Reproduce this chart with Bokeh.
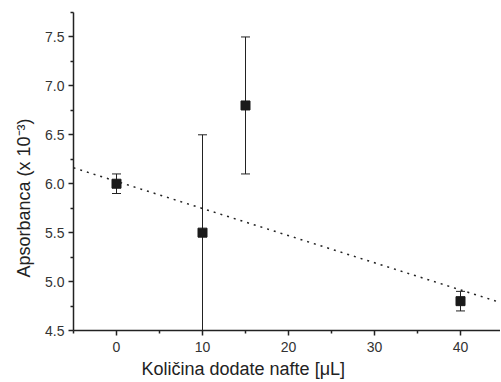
from bokeh.plotting import figure
from bokeh.models import ColumnDataSource, Whisker, TeeHead, Range1d, FixedTicker, CustomJSTickFormatter, Title
from bokeh.embed import file_html
from bokeh.resources import INLINE

# data
x_vals = [0, 10, 15, 40]
y_vals = [6.0, 5.5, 6.8, 4.8]
y_err = [0.1, 1.0, 0.7, 0.1]
fit_x = [-5, 45]
fit_y = [6.163, 4.776]
x_ticks = [0, 10, 20, 30, 40]
x_minor = [-5, 5, 15, 25, 35, 45]
y_ticks = [4.5, 5.0, 5.5, 6.0, 6.5, 7.0, 7.5]
y_minor = [4.75, 5.25, 5.75, 6.25, 6.75, 7.25, 7.75]
x_label = "Količina dodate nafte [μL]"
y_label = "Apsorbanca (x 10⁻³)"

p = figure(width=500, height=380, output_backend="svg", toolbar_location=None,
           x_range=Range1d(-5, 44.65), y_range=Range1d(4.5, 7.75),
           min_border_left=73, min_border_right=0, min_border_top=12, min_border_bottom=50)
p.outline_line_color = None
p.xgrid.visible = False
p.ygrid.visible = False
p.background_fill_color = "white"
p.border_fill_color = "white"

src = ColumnDataSource(dict(x=x_vals, y=y_vals,
                            lo=[a - b for a, b in zip(y_vals, y_err)],
                            hi=[a + b for a, b in zip(y_vals, y_err)]))

p.line(fit_x, fit_y, line_color="#222222", line_width=1.5, line_dash="2 5")

w = Whisker(source=src, base="x", upper="hi", lower="lo", line_color="#222222", line_width=1,
            upper_head=TeeHead(size=9, line_color="#222222", line_width=1),
            lower_head=TeeHead(size=9, line_color="#222222", line_width=1))
p.add_layout(w)
p.scatter("x", "y", source=src, marker="square", size=9, fill_color="#1a1a1a", line_color="#1a1a1a")

for ax in (p.xaxis[0], p.yaxis[0]):
    ax.axis_line_width = 1.5
    ax.axis_line_color = "#222222"
    ax.major_tick_line_color = "#222222"
    ax.minor_tick_line_color = "#222222"
    ax.major_tick_line_width = 1.5
    ax.minor_tick_line_width = 1.5
    ax.major_tick_in = 0
    ax.major_tick_out = 5
    ax.minor_tick_in = 0
    ax.minor_tick_out = 3
    ax.major_label_text_font = "Liberation Sans"
    ax.major_label_text_font_size = "14px"
    ax.major_label_text_color = "#333333"

p.xaxis.ticker = FixedTicker(ticks=x_ticks, minor_ticks=x_minor)
p.yaxis.ticker = FixedTicker(ticks=y_ticks, minor_ticks=y_minor)
p.yaxis.formatter = CustomJSTickFormatter(code="return tick.toFixed(1);")
p.xaxis.major_label_standoff = 6
p.yaxis.major_label_standoff = 4

tx = Title(text=x_label, align="left", offset=68, text_font="Liberation Sans",
           text_font_size="18px", text_font_style="normal", text_color="#222222", standoff=4)
p.add_layout(tx, "below")
ty = Title(text=y_label, align="left", offset=53, text_font="Liberation Sans",
           text_font_size="18px", text_font_style="normal", text_color="#222222", standoff=18)
p.add_layout(ty, "left")

open("out.html", "w").write(file_html(p, INLINE))
